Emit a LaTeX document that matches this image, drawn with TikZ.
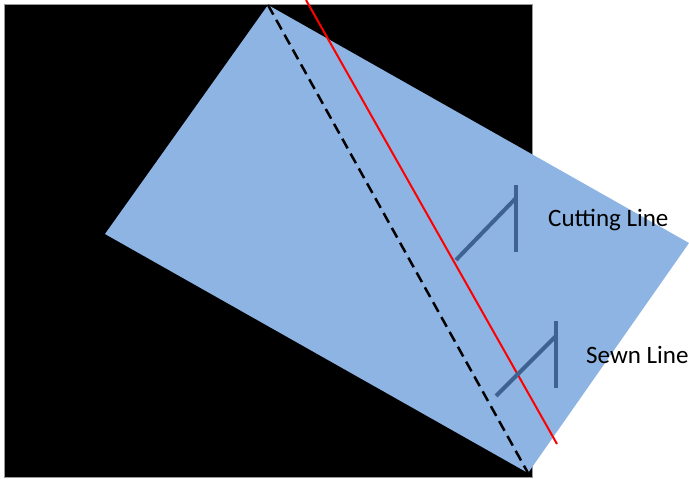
\documentclass[tikz,border=0pt]{standalone}
\usepackage{fontspec}
\setmainfont{Carlito}
\definecolor{sheetblue}{RGB}{142,180,227}
\definecolor{flagblue}{RGB}{62,98,146}
\begin{document}
\begin{tikzpicture}[x=1pt,y=-1pt,
  flag/.style={draw=flagblue,line width=4pt},
  lbl/.style={anchor=west,inner sep=0pt,font=\fontsize{25}{29}\selectfont}]
\useasboundingbox (0,0) rectangle (689,479);
\fill[white] (0,0) rectangle (689,479);
\draw[black!40,fill=black,line width=0.8pt] (4,4) rectangle (532,477);
\fill[sheetblue] (268,5) -- (689,243) -- (528,473) -- (105,234) -- cycle;
\draw[black,line width=2.5pt,dash pattern=on 11pt off 6pt] (268,5) -- (528,473);
\draw[red,line width=2pt] (306,0) -- (557,444);
\draw[flag] (516,185) -- (516,252);
\draw[flag] (456,260) -- (516,198);
\draw[flag] (556,321) -- (556,388);
\draw[flag] (496,396) -- (556,336);
\node[lbl] (cut) at (548,220) {Cutting Line};
\node[lbl] (sewn) at (586,355) {Sewn Line};
\end{tikzpicture}
\end{document}
